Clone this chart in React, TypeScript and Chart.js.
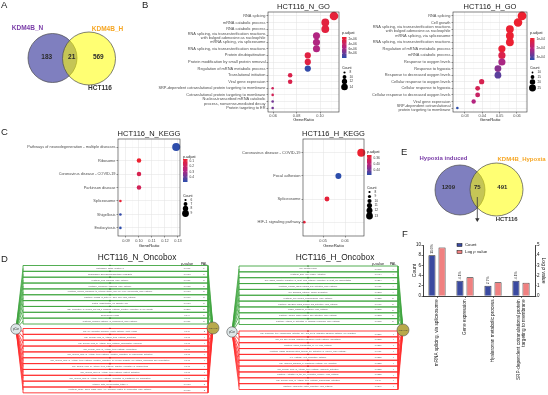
import React, { useEffect, useRef } from "react";
import { Chart, registerables } from "chart.js";

Chart.register(...registerables);
const FONT = "'Liberation Sans', Arial, Helvetica, sans-serif";
Chart.defaults.font.family = FONT;

type Lbl = string | string[];

// ---------------- Panel A (Venn) ----------------
const vennA_sets = ["KDM4B_N", "KDM4B_H"];
const vennA_counts = [183, 21, 569];
const vennA_cell = "HCT116";

// ---------------- Panel B (GO dot plots) ----------------
const goN_terms: Lbl[] = [
  "RNA splicing",
  "mRNA catabolic process",
  "RNA catabolic process",
  ["RNA splicing, via transesterification reactions", "with bulged adenosine as nucleophile"],
  "mRNA splicing, via spliceosome",
  "RNA splicing, via transesterification reactions",
  "Protein deubiquitination",
  "Protein modification by small protein removal",
  "Regulation of mRNA metabolic process",
  "Translational initiation",
  "Viral gene expression",
  "SRP-dependent cotranslational protein targeting to membrane",
  "Cotranslational protein targeting to membrane",
  ["Nuclear-transcribed mRNA catabolic", "process, nonsense-mediated decay"],
  "Protein targeting to ER",
];
const goN_ratio = [0.1119, 0.1045, 0.1045, 0.097, 0.097, 0.097, 0.0896, 0.0896, 0.0896, 0.0746, 0.0746, 0.0597, 0.0597, 0.0597, 0.0597];
const goN_count = [15, 14, 14, 13, 13, 13, 12, 12, 12, 10, 10, 8, 8, 8, 8];
const goN_padj = [1.6e-6, 1.9e-6, 1.9e-6, 5.6e-6, 5.6e-6, 5.6e-6, 2.1e-6, 2.1e-6, 9.7e-6, 2.6e-6, 2.6e-6, 3.4e-6, 3.2e-6, 7.6e-6, 7.6e-6];
const goN_xticks = [0.06, 0.08, 0.1];
const goN_xminor = [0.07, 0.09, 0.11];
const goN_pBreaks = [2e-6, 4e-6, 6e-6, 8e-6];
const goN_pLabels = ["2e-06", "4e-06", "6e-06", "8e-06"];
const goN_cBreaks = [8, 10, 12, 14];

const goH_terms: Lbl[] = [
  "RNA splicing",
  "Cell growth",
  ["RNA splicing, via transesterification reactions", "with bulged adenosine as nucleophile"],
  "mRNA splicing, via spliceosome",
  "RNA splicing, via transesterification reactions",
  "Regulation of mRNA metabolic process",
  "mRNA catabolic process",
  "Response to oxygen levels",
  "Response to hypoxia",
  "Response to decreased oxygen levels",
  "Cellular response to oxygen levels",
  "Cellular response to hypoxia",
  "Cellular response to decreased oxygen levels",
  "Viral gene expression",
  ["SRP-dependent cotranslational", "protein targeting to membrane"],
];
const goH_ratio = [0.0629, 0.0606, 0.0559, 0.0559, 0.0559, 0.0513, 0.0513, 0.0513, 0.049, 0.049, 0.0396, 0.0373, 0.0373, 0.035, 0.0256];
const goH_count = [27, 26, 24, 24, 24, 22, 22, 22, 21, 21, 17, 16, 16, 15, 11];
const goH_padj = [0.9e-4, 0.92e-4, 0.95e-4, 0.95e-4, 0.95e-4, 1.0e-4, 1.3e-4, 2.2e-4, 2.5e-4, 2.9e-4, 1.4e-4, 1.45e-4, 1.7e-4, 2.1e-4, 3.3e-4];
const goH_xticks = [0.03, 0.04, 0.05, 0.06];
const goH_xminor = [0.025, 0.035, 0.045, 0.055, 0.065];
const goH_pBreaks = [1e-4, 2e-4, 3e-4];
const goH_pLabels = ["1e-04", "2e-04", "3e-04"];
const goH_cBreaks = [10, 15, 20, 25];

// ---------------- Panel C (KEGG dot plots) ----------------
const keggN_terms: Lbl[] = [
  "Pathways of neurodegeneration - multiple diseases",
  "Ribosome",
  "Coronavirus disease - COVID-19",
  "Parkinson disease",
  "Spliceosome",
  "Shigellosis",
  "Endocytosis",
];
const keggN_ratio = [0.1286, 0.1, 0.1, 0.1, 0.0857, 0.0857, 0.0857];
const keggN_count = [9, 7, 7, 7, 6, 6, 6];
const keggN_padj = [0.49, 0.065, 0.15, 0.17, 0.08, 0.48, 0.49];
const keggN_xticks = [0.09, 0.1, 0.11, 0.12, 0.13];
const keggN_xminor = [0.085, 0.095, 0.105, 0.115, 0.125];
const keggN_pBreaks = [0.1, 0.2, 0.3, 0.4];
const keggN_pLabels = ["0.1", "0.2", "0.3", "0.4"];
const keggN_cBreaks = [6, 7, 8, 9];

const keggH_terms: Lbl[] = [
  "Coronavirus disease - COVID-19",
  "Focal adhesion",
  "Spliceosome",
  "HIF-1 signaling pathway",
];
const keggH_ratio = [0.0674, 0.057, 0.0518, 0.0415];
const keggH_count = [13, 11, 10, 8];
const keggH_padj = [0.342, 0.472, 0.35, 0.35];
const keggH_xticks = [0.05, 0.06];
const keggH_xminor = [0.045, 0.055, 0.065];
const keggH_pBreaks = [0.36, 0.4, 0.44];
const keggH_pLabels = ["0.36", "0.40", "0.44"];
const keggH_cBreaks = [8, 9, 10, 11, 12, 13];

// ---------------- Panel D (Oncobox) ----------------
const oncoN_upNames = [
  "proteasome_pathw_reaction_2",
  "Endoplasmic_ER/regulates/apoptosis_living/Beta",
  "reactome_TCR_signaling_Main_Pathway",
  "reactome_Membrane_trafficking_Main_Pathway",
  "reactome_Cellular_responses_to_external_stimuli_and_cell_cycle_checkpoints_Main_Pathway",
  "reactome_Folding_of_actin_by_CCT_TriC_Main_Pathway",
  "protein_ubiquitination_via_ubiquitin_Cell",
  "NCI_Regulation_of_nuclear_SMAD2_3_signaling_Pathway_negative_regulation_of_cell_growth",
  "Spliceosome/Human",
  "reactome_Terminal_pathway_of_complement_Main_Pathway",
];
const oncoN_upP = ["0.0461", "0.0488", "0.0481", "0.0485", "0.0488", "0.0470", "0.0488", "0.0377", "0.044", "0.0481"];
const oncoN_upPAL = [1, 2, 2, 2, 2, 2, 2, 2, 2, 2];
const oncoN_dnNames = [
  "NCI_IL6_mediated_signaling_events_Pathway_acute_phase",
  "NCI_Cellular_roles_of_Anthrax_toxin_Pathway_apoptosis",
  "NCI_Cellular_roles_of_Anthrax_toxin_Pathway_inflammatory_response",
  "NCI_Cellular_roles_of_Anthrax_toxin_Pathway_chemotaxis",
  "NCI_Cellular_roles_of_Anthrax_toxin_Pathway_negative_regulation_of_macrophage_activation",
  "NCI_Cellular_roles_of_Anthrax_toxin_Pathway_negative_regulation_of_myeloid_dendritic_cell_antigen_processing_and_presentation",
  "NCI_Cellular_roles_of_Anthrax_toxin_Pathway_negative_regulation_of_phagocytosis",
  "NCI_Cellular_roles_of_Anthrax_toxin_Pathway_platelet_activation",
  "NCI_Cellular_roles_of_Anthrax_toxin_Pathway_regulation_of_endothelial_cell_proliferation",
  "cytokine_actin_polymerization_tetrad_1",
  "reactome_PDGF_CD73_ROS1_MET_ALK_signaling_related_to_proliferation_Main_Pathway",
];
const oncoN_dnP = ["0.048", "0.043", "0.043", "0.043", "0.043", "0.043", "0.043", "0.043", "0.043", "0.0488", "0.0487"];
const oncoN_dnPAL = [-2, -4, -4, -4, -4, -4, -4, -4, -4, -3, -2];

const oncoH_upNames = [
  "Cell_growth/Human",
  "reactome_ERK_and_mTOR_Activation",
  "NCI_Insulin_receptor_regulation_in_heart_cells_Pathway_regulation_of_heart_cell_differentiation",
  "reactome_TGFBR_ligand_binding_and_activation_Main_Pathway",
  "MR_Signaling_Pathway_Opioid_Regulation",
  "reactome_The_NLRP1_inflammasome_Main_Pathway",
  "reactome_TGFBR2_ligand_binding_and_activation_Main_Pathway",
  "KEGG_Ribosome_metabolic_Main_Pathway",
  "reactome_TGFB1_ligand_binding_and_activation_Main_Pathway",
  "reactome_Vitamin_D_activation_in_classical_responses_Main_Pathway",
];
const oncoH_upP = ["0.0105", "0.0484", "0.0284", "0.0471", "0.0273", "0.0232", "0.0467", "0.0265", "0.0283", "0.0165"];
const oncoH_upPAL = [4, 4, 4, 4, 4, 2, 2, 2, 2, 2];
const oncoH_dnNames = [
  "NCI_Urokinase_type_plasminogen_activator_uPA_and_uPAR_mediated_signaling_Pathway_cell_migration",
  "NCI_IL8_and_CXCR2_mediated_signaling_events_Pathway_chemotaxis",
  "reactome_Signal_transduction_by_L1_Main_Pathway",
  "reactome_CREB_phosphorylation_through_the_activation_of_CaMKII_Main_Pathway",
  "FAK_Pathway_Wnt_Regulation_Pathway",
  "NCI_VEGFR1_signaling_in_endothelial_Pathway_cell_migration",
  "NCI_Cellular_roles_of_Anthrax_toxin_Pathway_monocyte_activation",
  "reactome_Activation_of_the_pre_replicative_complex_Main_Pathway",
  "NCI_Cellular_roles_of_Anthrax_toxin_Pathway_macrophage_activation",
  "reactome_Fibronectin_matrix_formation_Main_Pathway",
];
const oncoH_dnP = ["0.0386", "0.0382", "0.0386", "0.0481", "0.0385", "0.0352", "0.0352", "0.0352", "0.048", "0.0346"];
const oncoH_dnPAL = [-4, -4, -4, -4, -4, -4, -4, -4, -4, -4];

// ---------------- Panel E (Venn) ----------------
const vennE_sets = ["Hypoxia induced", "KDM4B_Hypoxia"];
const vennE_counts = [1209, 75, 491];
const vennE_cell = "HCT116";

// ---------------- Panel F (bar chart) ----------------
const fTerms: Lbl[] = [
  "mRNA splicing, via spliceosome",
  "Gene expression",
  "Hyaluronan metabolic process",
  ["SRP-dependent cotranslational protein", "targeting to membrane"],
];
const fCount = [8, 3, 2, 3];
const fLogP = [4.75, 1.85, 1.35, 1.3];
const fPct = ["11.0%", "4.1%", "2.7%", "4.1%"];
const fLeftTicks = [0, 2, 4, 6, 8, 10];
const fRightTicks = [0, 1, 2, 3, 4, 5];

// ---------------- helpers ----------------
function lerpColor(t: number) {
  const S = [[238, 32, 46], [180, 36, 128], [42, 78, 172]];
  t = Math.max(0, Math.min(1, t));
  const k = t < 0.5 ? 0 : 1;
  const u = t < 0.5 ? t / 0.5 : (t - 0.5) / 0.5;
  const a = S[k], b = S[k + 1];
  return `rgb(${Math.round(a[0] + (b[0] - a[0]) * u)},${Math.round(a[1] + (b[1] - a[1]) * u)},${Math.round(a[2] + (b[2] - a[2]) * u)})`;
}

function sizeOf(c: number, cmin: number, cmax: number, rmin: number, rmax: number) {
  const s = (Math.sqrt(c) - Math.sqrt(cmin)) / (Math.sqrt(cmax) - Math.sqrt(cmin));
  return Math.max(0.7, rmin + s * (rmax - rmin));
}

function text(ctx: any, s: string, x: number, y: number, o: any = {}) {
  ctx.save();
  ctx.font = `${o.style || "normal"} ${o.weight || "normal"} ${o.size || 4}px ${FONT}`;
  ctx.fillStyle = o.color || "#222";
  ctx.textAlign = o.align || "center";
  ctx.textBaseline = o.base || "middle";
  ctx.translate(x, y);
  if (o.rot) ctx.rotate(o.rot);
  ctx.fillText(s, 0, 0);
  ctx.restore();
}

function rich(ctx: any, segs: [string, boolean][], x: number, y: number, size: number, color: string, rot = 0, align = "left") {
  ctx.save();
  ctx.translate(x, y);
  ctx.rotate(rot);
  ctx.fillStyle = color;
  ctx.textBaseline = "middle";
  ctx.textAlign = "left";
  const fonts = segs.map((s) => `${s[1] ? "italic " : ""}${size}px ${FONT}`);
  const widths = segs.map((s, i) => {
    ctx.font = fonts[i];
    return ctx.measureText(s[0]).width;
  });
  const total = widths.reduce((a, b) => a + b, 0);
  let cx = align === "center" ? -total / 2 : 0;
  segs.forEach((s, i) => {
    ctx.font = fonts[i];
    ctx.fillText(s[0], cx, 0);
    cx += widths[i];
  });
  ctx.restore();
}

const base = {
  responsive: false,
  maintainAspectRatio: false,
  animation: false,
  devicePixelRatio: 1,
  events: [],
};

// ---------------- dot plot config ----------------
function dotConfig(s: any) {
  const cmin = Math.min(...s.count), cmax = Math.max(...s.count);
  const R = (c: number) => sizeOf(c, cmin, cmax, s.rMin, s.rMax);
  const pt = (p: number) => (p - s.pMin) / (s.pMax - s.pMin);
  const n = s.labels.length;
  const deco = {
    id: "deco",
    afterDraw(chart: any) {
      const { ctx, chartArea: ca } = chart;
      ctx.save();
      ctx.strokeStyle = "#333";
      ctx.lineWidth = 0.6;
      ctx.strokeRect(ca.left, ca.top, ca.width, ca.height);
      ctx.restore();
      text(ctx, s.title, (ca.left + ca.right) / 2, s.titleY, { size: 7.5, color: "#1a1a1a" });
      const x0 = ca.right + 3;
      const L = s.legend;
      text(ctx, "p.adjust", x0, L.pTitle, { size: 3.6, align: "left", color: "#222" });
      const g = ctx.createLinearGradient(0, L.barTop, 0, L.barBot);
      [0, 0.25, 0.5, 0.75, 1].forEach((t) => g.addColorStop(t, lerpColor(t)));
      ctx.fillStyle = g;
      ctx.fillRect(x0, L.barTop, 4.5, L.barBot - L.barTop);
      s.pBreaks.forEach((v: number, i: number) => {
        const y = L.barTop + pt(v) * (L.barBot - L.barTop);
        ctx.strokeStyle = "#fff";
        ctx.lineWidth = 0.4;
        ctx.beginPath();
        ctx.moveTo(x0, y); ctx.lineTo(x0 + 1, y);
        ctx.moveTo(x0 + 3.5, y); ctx.lineTo(x0 + 4.5, y);
        ctx.stroke();
        text(ctx, s.pLabels[i], x0 + 6.5, y, { size: 3.2, align: "left", color: "#333" });
      });
      text(ctx, "Count", x0, L.cTitle, { size: 3.6, align: "left", color: "#222" });
      s.cBreaks.forEach((c: number, i: number) => {
        ctx.beginPath();
        ctx.arc(x0 + 2.5, L.cItems[i], R(c) * 0.85, 0, Math.PI * 2);
        ctx.fillStyle = "#000";
        ctx.fill();
        text(ctx, String(c), x0 + 7.5, L.cItems[i], { size: 3.2, align: "left", color: "#333" });
      });
    },
  };
  const isMinor = (c: any) => c && c.tick && c.tick.minor;
  return {
    type: "bubble",
    data: {
      datasets: [
        {
          data: s.labels.map((_: any, i: number) => ({ x: s.ratio[i], y: i, r: R(s.count[i]) })),
          backgroundColor: s.padj.map((p: number) => lerpColor(pt(p))),
          borderWidth: 0,
          clip: false,
        },
      ],
    },
    options: {
      ...base,
      layout: { autoPadding: false, padding: { top: s.padTop, right: s.padRight, bottom: s.padBottom, left: 0 } },
      plugins: { legend: { display: false }, tooltip: { enabled: false }, title: { display: false } },
      scales: {
        x: {
          type: "linear",
          min: s.xMin,
          max: s.xMax,
          afterBuildTicks: (sc: any) => {
            sc.ticks = [
              ...s.xTicks.map((v: number) => ({ value: v })),
              ...s.xMinor.map((v: number) => ({ value: v, minor: true })),
            ].sort((a: any, b: any) => a.value - b.value);
          },
          ticks: {
            autoSkip: false,
            maxRotation: 0,
            padding: s.tickPad,
            font: { size: 3.9 },
            color: "#4d4d4d",
            callback: (v: any, i: number, ticks: any[]) => (ticks[i] && ticks[i].minor ? "" : Number(v).toFixed(2)),
          },
          grid: {
            color: (c: any) => (isMinor(c) ? "#f3f3f3" : "#e4e4e4"),
            lineWidth: (c: any) => (isMinor(c) ? 0.35 : 0.55),
            tickLength: 1.5,
            tickColor: (c: any) => (isMinor(c) ? "rgba(0,0,0,0)" : "#333"),
            tickWidth: 0.5,
          },
          border: { display: false },
          title: { display: true, text: "GeneRatio", font: { size: 4.3 }, color: "#222", padding: 0 },
          afterFit: (sc: any) => {
            sc.height = s.xAxisH;
          },
        },
        y: {
          type: "linear",
          min: -0.6,
          max: n - 0.4,
          reverse: true,
          afterBuildTicks: (sc: any) => {
            sc.ticks = s.labels.map((_: any, i: number) => ({ value: i }));
          },
          ticks: {
            autoSkip: false,
            padding: 1,
            font: { size: s.labelSize, lineHeight: 1.1 },
            color: "#4d4d4d",
            callback: (v: any) => s.labels[v],
          },
          grid: { color: "#e4e4e4", lineWidth: 0.55, tickLength: 1.5, tickColor: "#333", tickWidth: 0.5 },
          border: { display: false },
          afterFit: (sc: any) => {
            sc.width = s.axisW;
          },
        },
      },
    },
    plugins: [deco],
  };
}

// ---------------- Venn config ----------------
function vennConfig(v: any) {
  const X = (x: number) => x - v.ox, Y = (y: number) => y - v.oy;
  return {
    type: "bubble",
    data: {
      datasets: v.circles.map((c: any) => ({
        data: [{ x: X(c.x), y: Y(c.y), r: c.r }],
        backgroundColor: c.fill,
        borderColor: "#4a4a4a",
        borderWidth: 0.7,
        order: c.order,
        clip: false,
      })),
    },
    options: {
      ...base,
      layout: { autoPadding: false, padding: 0 },
      plugins: { legend: { display: false }, tooltip: { enabled: false } },
      scales: {
        x: { type: "linear", display: false, min: 0, max: v.w },
        y: { type: "linear", display: false, min: 0, max: v.h, reverse: true },
      },
    },
    plugins: [
      {
        id: "vennText",
        afterDraw(chart: any) {
          const ctx = chart.ctx;
          v.sets.forEach((s: string, i: number) =>
            text(ctx, s, X(v.setPos[i][0]), Y(v.setPos[i][1]), { size: v.fs, weight: "bold", color: v.setColors[i] })
          );
          v.counts.forEach((c: number, i: number) =>
            text(ctx, String(c), X(v.countPos[i][0]), Y(v.countPos[i][1]), { size: v.fs, weight: "bold", color: "#2b2b2b" })
          );
          text(ctx, v.cell, X(v.cellPos[0]), Y(v.cellPos[1]), { size: v.fs, weight: "bold", color: "#333" });
          if (v.arrow) {
            const [ax, ay1, ay2] = v.arrow;
            ctx.save();
            ctx.strokeStyle = "#333";
            ctx.fillStyle = "#333";
            ctx.lineWidth = 0.8;
            ctx.beginPath();
            ctx.moveTo(X(ax), Y(ay1));
            ctx.lineTo(X(ax), Y(ay2) - 3);
            ctx.stroke();
            ctx.beginPath();
            ctx.moveTo(X(ax) - 2.2, Y(ay2) - 3.8);
            ctx.lineTo(X(ax) + 2.2, Y(ay2) - 3.8);
            ctx.lineTo(X(ax), Y(ay2));
            ctx.closePath();
            ctx.fill();
            ctx.restore();
          }
        },
      },
    ],
  };
}

// ---------------- Oncobox config ----------------
function oncoConfig(o: any) {
  const X = (x: number) => x - o.ox, Y = (y: number) => y - o.oy;
  const nL = { x: X(o.nodeL[0]), y: Y(o.nodeL[1]) };
  const nR = { x: X(o.nodeR[0]), y: Y(o.nodeR[1]) };
  const x0 = X(o.x0), x1 = X(o.x1), xc = X(o.xName);
  const datasets: any[] = [];
  const marks: any[] = [];
  const rowsTxt: any[] = [];
  const mk = (pts: number[][], color: string, width: number) => ({
    type: "scatter",
    data: pts.map((p) => ({ x: p[0], y: p[1] })),
    showLine: true,
    borderColor: color,
    borderWidth: width,
    pointRadius: 0,
    fill: false,
    tension: 0,
    clip: false,
    order: 2,
  });
  const groups = [
    { g: o.up, top: Y(o.upTop), color: "#3fa53f", dark: "#1d6e1d" },
    { g: o.dn, top: Y(o.dnTop), color: "#ff2a2a", dark: "#b00000" },
  ];
  groups.forEach((G) =>
    G.g.names.forEach((nm: string, i: number) => {
      const t = G.top + i * o.rowH, b = t + o.rowH, m = (t + b) / 2;
      datasets.push(mk([[x0, t], [x1, t], [x1, b], [x0, b], [x0, t]], G.color, 0.9));
      datasets.push(mk([[nL.x, nL.y], [x0, m]], G.color, 0.8));
      datasets.push(mk([[x1, m], [nR.x, nR.y]], G.color, 0.8));
      marks.push({ x: xc, y: t, c: G.dark });
      rowsTxt.push({ nm, p: G.g.p[i], pal: G.g.pal[i], y: m });
    })
  );
  datasets.push({
    type: "scatter",
    data: marks.map((m) => ({ x: m.x, y: m.y })),
    pointStyle: "triangle",
    pointRadius: 1.1,
    backgroundColor: marks.map((m) => m.c),
    borderWidth: 0,
    order: 1,
    clip: false,
  });
  datasets.push({
    type: "scatter",
    data: [nL, nR],
    pointRadius: [o.nodeLR, o.nodeRR],
    backgroundColor: ["#dde7e8", "#b8a94b"],
    borderColor: "#555",
    borderWidth: 0.6,
    order: 0,
    clip: false,
  });
  return {
    type: "scatter",
    data: { datasets },
    options: {
      ...base,
      layout: { autoPadding: false, padding: 0 },
      plugins: { legend: { display: false }, tooltip: { enabled: false } },
      scales: {
        x: { type: "linear", display: false, min: 0, max: o.w },
        y: { type: "linear", display: false, min: 0, max: o.h, reverse: true },
      },
    },
    plugins: [
      {
        id: "oncoText",
        afterDraw(chart: any) {
          const ctx = chart.ctx;
          text(ctx, o.title, X(o.titleX), Y(o.titleY), { size: 8.3, color: "#1a1a1a" });
          rich(ctx, [["p", true], ["-value", false]], X(o.xP), Y(o.headY), 3.7, "#222", 0, "center");
          text(ctx, "PAL", X(o.xPal), Y(o.headY), { size: 3.7, color: "#222" });
          rowsTxt.forEach((r) => {
            text(ctx, r.nm, xc, r.y, { size: 2.0, color: "#555" });
            text(ctx, r.p, X(o.xP), r.y, { size: 2.2, color: "#555" });
            text(ctx, String(r.pal), X(o.xPal), r.y, { size: 2.3, color: "#555" });
          });
          text(ctx, "pCor", nL.x, nL.y, { size: 2.8, color: "#333" });
          text(ctx, "pval<0.05", nR.x, nR.y, { size: 2.0, color: "#333" });
        },
      },
    ],
  };
}

// ---------------- Bar chart (F) ----------------
function barConfig() {
  const ox = 395, oy = 235;
  const deco = {
    id: "fdeco",
    afterDraw(chart: any) {
      const { ctx, chartArea: ca } = chart;
      const xs = chart.scales.x;
      fTerms.forEach((t, i) => {
        const lines = Array.isArray(t) ? t : [t];
        const x = xs.getPixelForValue(i);
        lines.forEach((ln, k) => {
          const off = (k - (lines.length - 1) / 2) * 5.2;
          ctx.save();
          ctx.translate(x + off, ca.bottom + 3.5);
          ctx.rotate(-Math.PI / 2);
          ctx.font = `4.7px ${FONT}`;
          ctx.fillStyle = "#1a1a1a";
          ctx.textAlign = "right";
          ctx.textBaseline = "middle";
          ctx.fillText(ln, 0, 0);
          ctx.restore();
        });
      });
      const meta = chart.getDatasetMeta(0);
      meta.data.forEach((bar: any, i: number) => {
        text(ctx, fPct[i], bar.x, bar.y - 1.5, { size: 3.4, color: "#333", align: "left", rot: -Math.PI / 2 });
      });
      text(ctx, "Count", ca.left - 8.5, (ca.top + ca.bottom) / 2, { size: 5, color: "#111", rot: -Math.PI / 2 });
      rich(ctx, [["Log ", false], ["p", true], [" value", false]], ca.right + 8, (ca.top + ca.bottom) / 2, 5, "#111", Math.PI / 2, "center");
      const lx = 457 - ox;
      [["#3a4aa0", [["Count", false]]], ["#f08080", [["Log ", false], ["p", true], [" value", false]]]].forEach((it: any, k) => {
        const ly = 243.5 - oy + k * 7;
        ctx.fillStyle = it[0];
        ctx.fillRect(lx, ly, 5, 3);
        ctx.strokeStyle = "#111";
        ctx.lineWidth = 0.5;
        ctx.strokeRect(lx, ly, 5, 3);
        rich(ctx, it[1], lx + 8, ly + 1.6, 4.3, "#111");
      });
    },
  };
  const axisCommon = {
    min: 0,
    grid: { drawOnChartArea: false, tickLength: 1.5, color: "#111", lineWidth: 0.6 },
    border: { display: true, color: "#111", width: 0.8 },
    ticks: { font: { size: 4.5 }, color: "#111", padding: 0.5, autoSkip: false },
  };
  return {
    type: "bar",
    data: {
      labels: fTerms.map((_, i) => String(i)),
      datasets: [
        { label: "Count", data: fCount, backgroundColor: "#3a4aa0", borderColor: "#111", borderWidth: 0.8, yAxisID: "y", barPercentage: 0.7, categoryPercentage: 0.72 },
        { label: "Log p value", data: fLogP, backgroundColor: "#f08080", borderColor: "#111", borderWidth: 0.8, yAxisID: "y2", barPercentage: 0.7, categoryPercentage: 0.72 },
      ],
    },
    options: {
      ...base,
      layout: { autoPadding: false, padding: { top: 10, right: 0, bottom: 0, left: 0 } },
      plugins: { legend: { display: false }, tooltip: { enabled: false } },
      scales: {
        x: {
          type: "category",
          ticks: { display: false },
          grid: { offset: false, drawOnChartArea: false, tickLength: 2, color: "#111", lineWidth: 0.6 },
          border: { display: true, color: "#111", width: 0.8 },
          afterFit: (sc: any) => {
            sc.height = 99;
          },
        },
        y: {
          ...axisCommon,
          position: "left",
          max: 10,
          afterBuildTicks: (sc: any) => {
            sc.ticks = fLeftTicks.map((v) => ({ value: v }));
          },
          afterFit: (sc: any) => {
            sc.width = 28;
          },
        },
        y2: {
          ...axisCommon,
          position: "right",
          max: 5,
          afterBuildTicks: (sc: any) => {
            sc.ticks = fRightTicks.map((v) => ({ value: v }));
          },
          afterFit: (sc: any) => {
            sc.width = 13;
          },
        },
      },
    },
    plugins: [deco],
  };
}

// ---------------- specs ----------------
const specGoN = {
  title: "HCT116_N_GO", labels: goN_terms, ratio: goN_ratio, count: goN_count, padj: goN_padj,
  xMin: 0.05574, xMax: 0.11617, xTicks: goN_xticks, xMinor: goN_xminor,
  pMin: 1e-6, pMax: 1e-5, pBreaks: goN_pBreaks, pLabels: goN_pLabels,
  cBreaks: goN_cBreaks, rMin: 1.3, rMax: 4.3, labelSize: 3.9,
  axisW: 128, padTop: 12, padRight: 26, padBottom: 6, xAxisH: 10, tickPad: 0, titleY: 7,
  legend: { pTitle: 33, barTop: 37, barBot: 58, cTitle: 67.5, cItems: [72.5, 77, 81.5, 87] },
};
const specGoH = {
  title: "HCT116_H_GO", labels: goH_terms, ratio: goH_ratio, count: goH_count, padj: goH_padj,
  xMin: 0.02308, xMax: 0.06577, xTicks: goH_xticks, xMinor: goH_xminor,
  pMin: 0.89e-4, pMax: 3.33e-4, pBreaks: goH_pBreaks, pLabels: goH_pLabels,
  cBreaks: goH_cBreaks, rMin: 1.3, rMax: 4.4, labelSize: 3.9,
  axisW: 88, padTop: 12, padRight: 21, padBottom: 6, xAxisH: 10, tickPad: 0, titleY: 7,
  legend: { pTitle: 33, barTop: 38, barBot: 60, cTitle: 68, cItems: [72.5, 77, 82, 88] },
};
const specKeggN = {
  title: "HCT116_N_KEGG", labels: keggN_terms, ratio: keggN_ratio, count: keggN_count, padj: keggN_padj,
  xMin: 0.08385, xMax: 0.13154, xTicks: keggN_xticks, xMinor: keggN_xminor,
  pMin: 0.063, pMax: 0.495, pBreaks: keggN_pBreaks, pLabels: keggN_pLabels,
  cBreaks: keggN_cBreaks, rMin: 1.3, rMax: 4.0, labelSize: 3.9,
  axisW: 118, padTop: 11, padRight: 35, padBottom: 1.5, xAxisH: 12.5, tickPad: 1, titleY: 6,
  legend: { pTitle: 29, barTop: 31, barBot: 54, cTitle: 68, cItems: [72, 76, 80.5, 85.5] },
};
const specKeggH = {
  title: "HCT116_H_KEGG", labels: keggH_terms, ratio: keggH_ratio, count: keggH_count, padj: keggH_padj,
  xMin: 0.0409, xMax: 0.06864, xTicks: keggH_xticks, xMinor: keggH_xminor,
  pMin: 0.34, pMax: 0.473, pBreaks: keggH_pBreaks, pLabels: keggH_pLabels,
  cBreaks: keggH_cBreaks, rMin: 1.3, rMax: 4.0, labelSize: 4.0,
  axisW: 88, padTop: 11, padRight: 31, padBottom: 1.5, xAxisH: 12.5, tickPad: 1, titleY: 6,
  legend: { pTitle: 24, barTop: 27, barBot: 47, cTitle: 60, cItems: [64, 68.5, 73, 77.5, 82.5, 88] },
};

const specVennA = {
  ox: 0, oy: 0, w: 140, h: 115, fs: 6.5,
  circles: [
    { x: 52.5, y: 58, r: 24.5, fill: "rgba(0,0,128,0.5)", order: 1 },
    { x: 89, y: 58.5, r: 26.5, fill: "rgba(255,255,0,0.55)", order: 0 },
  ],
  sets: vennA_sets, setColors: ["#7a3da8", "#f6a623"], setPos: [[27.5, 28], [107.5, 29]],
  counts: vennA_counts, countPos: [[46.7, 57], [71.7, 57], [98.3, 57]],
  cell: vennA_cell, cellPos: [100, 88.5],
};
const specVennE = {
  ox: 395, oy: 145, w: 153, h: 88, fs: 6,
  circles: [
    { x: 460, y: 190, r: 25, fill: "rgba(0,0,128,0.5)", order: 1 },
    { x: 496.5, y: 189.5, r: 26.5, fill: "rgba(255,255,0,0.55)", order: 0 },
  ],
  sets: vennE_sets, setColors: ["#7a3da8", "#f6a623"], setPos: [[443.5, 158], [521.5, 159]],
  counts: vennE_counts, countPos: [[448.3, 187], [477.3, 187], [502.3, 187]],
  cell: vennE_cell, cellPos: [506.7, 219.5],
  arrow: [477.3, 197, 222],
};

const specOncoN = {
  ox: 0, oy: 250, w: 222, h: 145,
  title: "HCT116_N_Oncobox", titleX: 137, titleY: 257.5, headY: 264,
  up: { names: oncoN_upNames, p: oncoN_upP, pal: oncoN_upPAL },
  dn: { names: oncoN_dnNames, p: oncoN_dnP, pal: oncoN_dnPAL },
  x0: 23, x1: 208, upTop: 265.5, dnTop: 328.5, rowH: 5.85,
  nodeL: [16, 329], nodeR: [213, 328], nodeLR: 5.2, nodeRR: 6,
  xName: 110, xP: 187, xPal: 204,
};
const specOncoH = {
  ox: 222, oy: 250, w: 190, h: 145,
  title: "HCT116_H_Oncobox", titleX: 335, titleY: 257.5, headY: 264,
  up: { names: oncoH_upNames, p: oncoH_upP, pal: oncoH_upPAL },
  dn: { names: oncoH_dnNames, p: oncoH_dnP, pal: oncoH_dnPAL },
  x0: 239, x1: 398, upTop: 266, dnTop: 331, rowH: 5.85,
  nodeL: [232, 332], nodeR: [403, 330], nodeLR: 5.2, nodeRR: 6,
  xName: 308, xP: 378, xPal: 393,
};

function ChartBox(props: { x: number; y: number; w: number; h: number; config: () => any }) {
  const ref = useRef<HTMLCanvasElement>(null);
  useEffect(() => {
    if (!ref.current) return;
    const chart = new Chart(ref.current, props.config());
    return () => chart.destroy();
  }, []);
  return (
    <canvas
      ref={ref}
      width={props.w}
      height={props.h}
      style={{ position: "absolute", left: props.x, top: props.y, width: props.w, height: props.h }}
    />
  );
}

const panelLetters: [string, number, number][] = [
  ["A", 1, 0],
  ["B", 142, 0],
  ["C", 1, 127],
  ["D", 1, 254],
  ["E", 401, 147],
  ["F", 402, 229],
];

export default function App() {
  return (
    <div
      style={{
        position: "absolute",
        left: 0,
        top: 0,
        width: 548,
        height: 395,
        background: "#fff",
        overflow: "hidden",
        fontFamily: FONT,
      }}
    >
      <ChartBox x={0} y={0} w={140} h={115} config={() => vennConfig(specVennA)} />
      <ChartBox x={140} y={0} w={225} h={128} config={() => dotConfig(specGoN)} />
      <ChartBox x={365} y={0} w={183} h={128} config={() => dotConfig(specGoH)} />
      <ChartBox x={0} y={128} w={215} h={122} config={() => dotConfig(specKeggN)} />
      <ChartBox x={215} y={128} w={180} h={122} config={() => dotConfig(specKeggH)} />
      <ChartBox x={395} y={145} w={153} h={88} config={() => vennConfig(specVennE)} />
      <ChartBox x={0} y={250} w={222} h={145} config={() => oncoConfig(specOncoN)} />
      <ChartBox x={222} y={250} w={190} h={145} config={() => oncoConfig(specOncoH)} />
      <ChartBox x={395} y={235} w={153} h={160} config={() => barConfig()} />
      {panelLetters.map(([l, x, y]) => (
        <div
          key={l}
          style={{ position: "absolute", left: x, top: y, fontSize: 9.5, lineHeight: "10px", color: "#222" }}
        >
          {l}
        </div>
      ))}
    </div>
  );
}
